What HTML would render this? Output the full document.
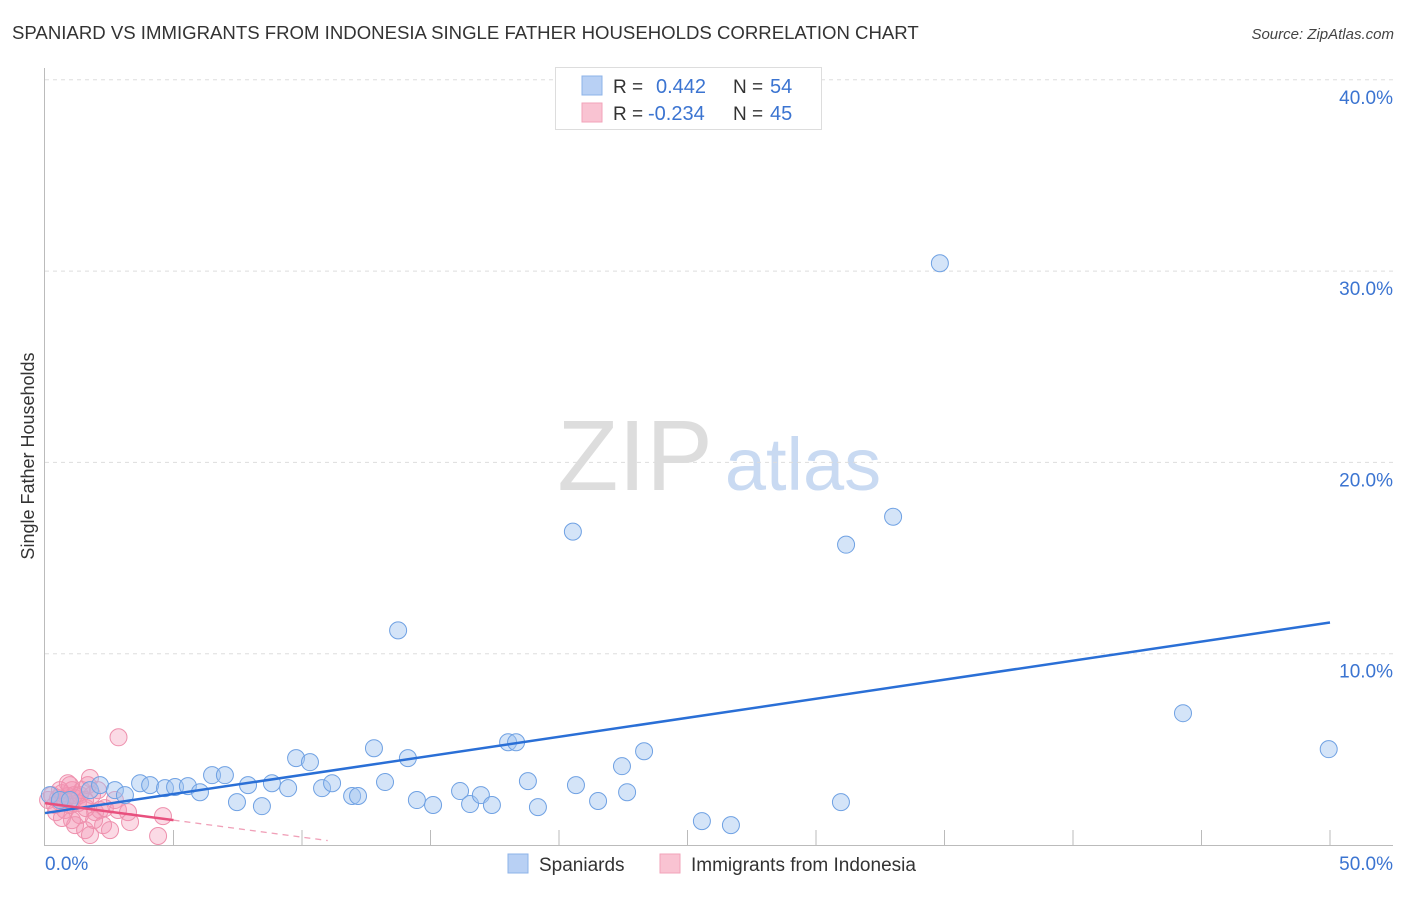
<!DOCTYPE html>
<html><head><meta charset="utf-8"><style>
body{margin:0;background:#fff;font-family:"Liberation Sans",sans-serif;}
svg text{font-family:"Liberation Sans",sans-serif;}
</style></head><body>
<svg width="1406" height="892" id="chart">
<text x="12" y="39" font-size="18.6" fill="#333">SPANIARD VS IMMIGRANTS FROM INDONESIA SINGLE FATHER HOUSEHOLDS CORRELATION CHART</text>
<text x="1394" y="39" font-size="15" fill="#444" font-style="italic" text-anchor="end">Source: ZipAtlas.com</text>
<text x="34" y="456" font-size="18" fill="#333" text-anchor="middle" transform="rotate(-90 34 456)">Single Father Households</text>
<g>
<text x="635" y="490" font-size="100" fill="#ddd" text-anchor="middle" font-family="Liberation Serif">ZIP</text>
<text x="803" y="490" font-size="74" fill="#c9daf2" text-anchor="middle">atlas</text></g>
<g id="grid"></g><g id="axes"></g><g id="marks"></g>
<g>
<rect x="555.5" y="67.5" width="266" height="62" fill="#fff" stroke="#ddd"/>
<rect x="582" y="76" width="20" height="19" fill="#b8d0f4" stroke="#8db3e8"/>
<rect x="582" y="103" width="20" height="19" fill="#f9c3d2" stroke="#f2a3b9"/>
<text x="613" y="93" font-size="19" fill="#333">R =</text><text x="656" y="93" font-size="20" fill="#3b74d1">0.442</text>
<text x="733" y="93" font-size="19" fill="#333">N =</text><text x="770" y="93" font-size="20" fill="#3b74d1">54</text>
<text x="613" y="120" font-size="19" fill="#333">R =</text><text x="648" y="120" font-size="20" fill="#3b74d1">-0.234</text>
<text x="733" y="120" font-size="19" fill="#333">N =</text><text x="770" y="120" font-size="20" fill="#3b74d1">45</text>
</g>
<g>
<rect x="508" y="854" width="20" height="19" fill="#b8d0f4" stroke="#8db3e8"/>
<text x="539" y="871" font-size="19" fill="#333">Spaniards</text>
<rect x="660" y="854" width="20" height="19" fill="#f9c3d2" stroke="#f2a3b9"/>
<text x="691" y="871" font-size="19" fill="#333">Immigrants from Indonesia</text>
</g>
</svg>
<script>
const blueX=[0.19,0.58,0.97,1.75,2.14,2.72,3.11,3.70,4.09,4.67,5.06,5.56,6.03,6.50,7.00,7.47,7.90,8.44,8.83,9.46,9.77,10.31,10.78,11.17,11.95,12.18,12.80,13.23,13.74,14.12,14.47,15.10,16.15,16.54,16.96,17.39,18.02,18.33,18.79,19.18,20.54,20.66,21.52,22.45,22.65,23.31,25.56,26.69,30.97,31.17,33.00,34.82,44.28,49.95];
const blueY=[2.61,2.35,2.35,2.87,3.13,2.87,2.61,3.23,3.13,2.97,3.03,3.08,2.76,3.65,3.65,2.24,3.13,2.03,3.23,2.97,4.54,4.33,2.97,3.23,2.56,2.56,5.06,3.29,11.22,4.54,2.35,2.09,2.82,2.14,2.61,2.09,5.37,5.37,3.34,1.98,16.38,3.13,2.30,4.12,2.76,4.90,1.25,1.04,2.24,15.70,17.16,30.41,6.89,5.01];
const pinkX=[0.12,0.27,0.39,0.51,0.58,0.66,0.78,0.89,0.97,1.05,1.17,1.28,1.36,1.44,1.56,1.67,1.75,1.83,0.97,0.78,1.05,1.17,1.36,1.56,1.75,1.95,2.14,2.26,2.53,2.33,2.84,3.23,3.31,4.40,4.59,2.72,2.06,0.43,0.66,1.13,1.60,1.91,0.58,0.89,2.86];
const pinkY=[2.35,2.61,2.09,2.45,2.24,2.71,2.35,2.56,2.09,2.87,2.45,2.19,2.61,2.87,2.35,3.13,3.50,2.61,3.13,1.83,1.30,1.04,1.56,0.78,0.52,1.72,1.83,1.04,0.78,1.93,1.83,1.72,1.20,0.47,1.51,2.35,2.87,1.72,1.41,2.61,1.93,1.30,2.87,3.23,5.63];
const blueTrend=[1.67,11.63]; // y% at x=0 and x=50
const pinkTrend=[2.19,1.30]; // y% at x=0 and x=5
const yTicks=[10,20,30,40];
const yTickLabels=["10.0%","20.0%","30.0%","40.0%"];
const xTicks=[0,5,10,15,20,25,30,35,40,45,50];
const NS="http://www.w3.org/2000/svg";
const sx=v=>45+v*25.7, sy=v=>845-v*19.13;
function mk(t,a,p){const e=document.createElementNS(NS,t);for(const k in a)e.setAttribute(k,a[k]);p.appendChild(e);return e;}
const grid=document.getElementById('grid'),axes=document.getElementById('axes'),marks=document.getElementById('marks');
yTicks.forEach((v,i)=>{
 const l=mk('line',{x1:45,x2:1393,y1:sy(v),y2:sy(v),stroke:'#ddd','stroke-dasharray':'4,4'},grid);
 
 
 const t=mk('text',{x:1393,y:sy(v)+24,'font-size':19,fill:'#3b74d1','text-anchor':'end'},axes);t.textContent=yTickLabels[i];
 
 
});
const ya=mk('line',{x1:44.5,x2:44.5,y1:68,y2:846,stroke:'#bbb'},axes);


const xa=mk('line',{x1:44,x2:1393,y1:845.5,y2:845.5,stroke:'#bbb'},axes);


xTicks.forEach(v=>{if(v===0)return;const l=mk('line',{x1:sx(v),x2:sx(v),y1:830,y2:846,stroke:'#bbb'},axes);
 
 });
const x0=mk('text',{x:45,y:870,'font-size':19,fill:'#3b74d1'},axes);x0.textContent='0.0%';


const x1=mk('text',{x:1393,y:870,'font-size':19,fill:'#3b74d1','text-anchor':'end'},axes);x1.textContent='50.0%';


pinkX.forEach((x,i)=>{const c=mk('circle',{cx:sx(x),cy:sy(pinkY[i]),r:8.5,fill:'rgba(244,150,180,0.35)',stroke:'#ee90ad','stroke-width':1},marks);
 
 });
blueX.forEach((x,i)=>{const c=mk('circle',{cx:sx(x),cy:sy(blueY[i]),r:8.5,fill:'rgba(160,195,240,0.45)',stroke:'#6fa1e3','stroke-width':1},marks);
 
 });
const bt=mk('line',{x1:sx(0),y1:sy(blueTrend[0]),x2:sx(50),y2:sy(blueTrend[1]),stroke:'#2a6fd6','stroke-width':2.5},marks);


const slope=(pinkTrend[1]-pinkTrend[0])/5;
const pt=mk('line',{x1:sx(0),y1:sy(pinkTrend[0]),x2:sx(5),y2:sy(pinkTrend[1]),stroke:'#e8507e','stroke-width':2.5},marks);


const pd=mk('line',{x1:sx(5),y1:sy(pinkTrend[1]),x2:sx(11),y2:sy(pinkTrend[0]+slope*11),stroke:'#f0a0b8','stroke-width':1.3,'stroke-dasharray':'6,5'},marks);


</script>
</body></html>
